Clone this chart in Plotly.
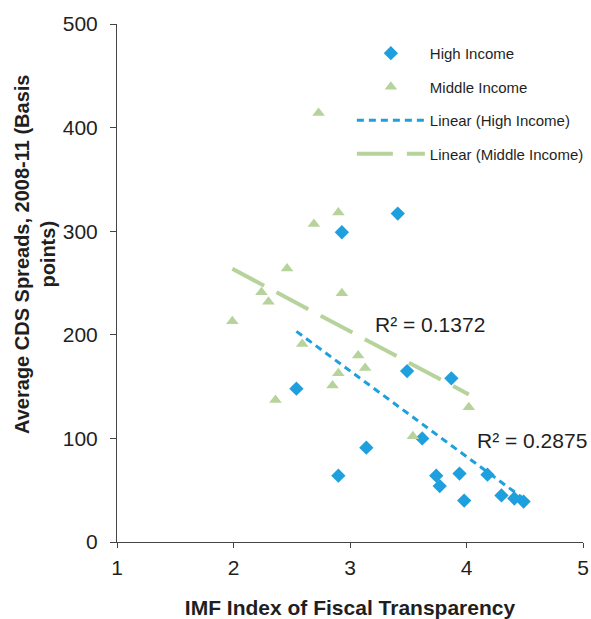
import numpy as np
import plotly.graph_objects as go

# High income (blue diamonds)
high_x = [2.54, 2.90, 2.93, 3.14, 3.41, 3.49, 3.62, 3.74, 3.77, 3.87, 3.94, 3.98, 4.18, 4.30, 4.41, 4.49]
high_y = [148, 64, 299, 91, 317, 165, 100, 64, 54, 158, 66, 40, 65, 45, 42, 39]

# Middle income (green triangles)
mid_x = [1.99, 2.24, 2.30, 2.36, 2.46, 2.59, 2.69, 2.73, 2.85, 2.90, 2.90, 2.93, 3.07, 3.13, 3.54, 4.02]
mid_y = [213, 241, 232, 137, 264, 191, 307, 414, 151, 163, 318, 240, 180, 168, 102, 130]

r2_high = "R² = 0.2875"
r2_mid = "R² = 0.1372"

x_ticks = [1, 2, 3, 4, 5]
y_ticks = [0, 100, 200, 300, 400, 500]

BLUE = "#1e9fde"
GREEN = "#b7d39c"
FONT = "Liberation Sans, Arial, sans-serif"
TXT = "#1f1f1f"


def fit_line(xs, ys):
    xs = np.array(xs, dtype=float)
    ys = np.array(ys, dtype=float)
    m, b = np.polyfit(xs, ys, 1)
    lx = np.array([xs.min(), xs.max()])
    return lx, m * lx + b


hx, hy = fit_line(high_x, high_y)
mx, my = fit_line(mid_x, mid_y)

fig = go.Figure()
fig.add_trace(go.Scatter(x=high_x, y=high_y, mode="markers", name="High Income",
                         legendgroup="a",
                         marker=dict(symbol="diamond", size=11, color=BLUE)))
fig.add_trace(go.Scatter(x=mid_x, y=mid_y, mode="markers", name="Middle Income",
                         legendgroup="b",
                         marker=dict(symbol="triangle-up", size=11, color=GREEN)))
fig.add_trace(go.Scatter(x=hx, y=hy, mode="lines", name="Linear (High Income)",
                         legendgroup="c",
                         line=dict(color=BLUE, width=3, dash="7px,5px")))
fig.add_trace(go.Scatter(x=mx, y=my, mode="lines", name="Linear (Middle Income)",
                         legendgroup="d",
                         line=dict(color=GREEN, width=4, dash="36px,14px")))

fig.add_annotation(x=3.69, y=210, text=r2_mid, showarrow=False,
                   font=dict(size=21, color=TXT, family=FONT))
fig.add_annotation(x=4.56, y=98, text=r2_high, showarrow=False,
                   font=dict(size=21, color=TXT, family=FONT))

# y-axis title (two lines, positioned as in the reference)
fig.add_annotation(xref="paper", yref="paper", x=-0.176, y=0.556,
                   xanchor="center", yanchor="middle", textangle=-90,
                   text="<b>Average CDS Spreads, 2008-11 (Basis<br>points)</b>",
                   showarrow=False, font=dict(size=20, color=TXT, family=FONT))

fig.update_layout(
    width=591, height=619,
    margin=dict(l=117, r=8, t=24, b=77, autoexpand=False),
    paper_bgcolor="white", plot_bgcolor="white",
    font=dict(family=FONT, color=TXT),
    showlegend=True,
    legend=dict(x=0.504, y=0.975, xanchor="left", yanchor="top",
                font=dict(size=15, color=TXT, family=FONT),
                bgcolor="rgba(0,0,0,0)", traceorder="grouped",
                tracegroupgap=11, itemwidth=68),
)
fig.update_xaxes(range=[1, 5], tickvals=x_ticks, showgrid=False, zeroline=False,
                 showline=True, linecolor="#444", linewidth=1, automargin=False,
                 ticks="outside", ticklen=5, tickcolor="#444", ticklabelstandoff=2,
                 tickfont=dict(size=21, color=TXT),
                 title=dict(text="<b>IMF Index of Fiscal Transparency</b>",
                            font=dict(size=21, color=TXT), standoff=30))
fig.update_yaxes(range=[0, 500], tickvals=y_ticks, showgrid=False, zeroline=False,
                 showline=True, linecolor="#444", linewidth=1, automargin=False,
                 ticks="outside", ticklen=6, tickcolor="#444", ticklabelstandoff=8,
                 tickfont=dict(size=21, color=TXT))

# remove the default page margin so the 591x619 figure fills the window exactly
fig.write_html("out.html",
               config={"displayModeBar": False},
               post_script="document.body.style.margin='0px';"
                           "document.body.style.overflow='hidden';")
